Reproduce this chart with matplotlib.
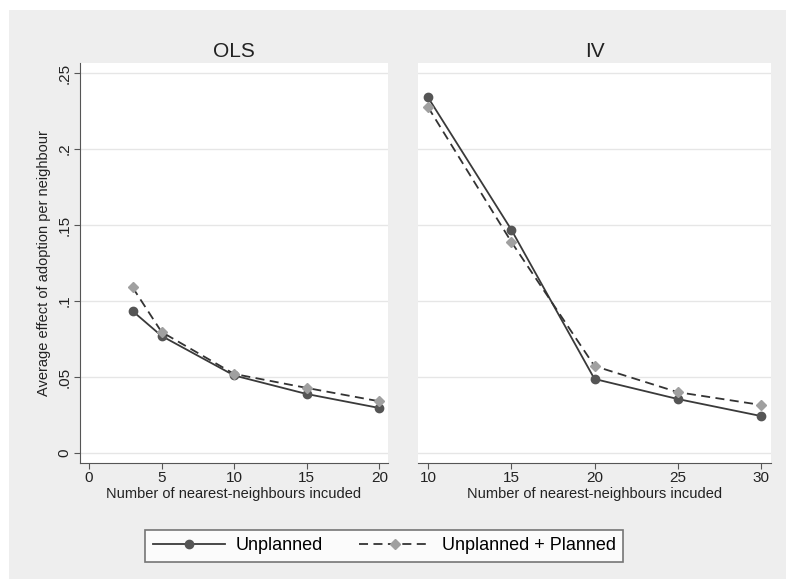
import numpy as np
import matplotlib.pyplot as plt
from matplotlib.patches import Rectangle

plt.rcParams['font.family'] = ['Liberation Sans', 'DejaVu Sans']

# OLS panel
ols_x = [3, 5, 10, 15, 20]
ols_unplanned = [0.0934, 0.077, 0.051, 0.0388, 0.0296]
ols_planned = [0.109, 0.0796, 0.052, 0.0428, 0.034]

# IV panel
iv_x = [10, 15, 20, 25, 30]
iv_unplanned = [0.234, 0.147, 0.0487, 0.0355, 0.0243]
iv_planned = [0.2276, 0.139, 0.0572, 0.040, 0.0316]

yticks = [0, 0.05, 0.1, 0.15, 0.2, 0.25]
ytick_labels = ["0", ".05", ".1", ".15", ".2", ".25"]
ols_xticks = [0, 5, 10, 15, 20]
iv_xticks = [10, 15, 20, 25, 30]

xlabel = "Number of nearest-neighbours incuded"
ylabel = "Average effect of adoption per neighbour"

fig = plt.figure(figsize=(7.86, 5.79), dpi=100)
fig.patch.set_facecolor("white")
# grey graph region (inset a little from the top-left corner)
fig.patches.append(Rectangle((9 / 786, 0), 1, 1 - 10 / 579, transform=fig.transFigure,
                             facecolor="#eeeeee", edgecolor="none", zorder=-10))

ax1 = fig.add_axes([80 / 786, 1 - 463 / 579, 308 / 786, 400 / 579])
ax2 = fig.add_axes([418 / 786, 1 - 463 / 579, 353 / 786, 400 / 579])

unpl_style = dict(color="#3a3a3a", linewidth=1.3, marker="o", markersize=6,
                  markerfacecolor="#555555", markeredgecolor="#555555")
plan_style = dict(color="#333333", linewidth=1.3, linestyle=(0, (5, 3)), marker="D",
                  markersize=5.5, markerfacecolor="#a0a0a0", markeredgecolor="#a0a0a0")

for ax, x, yu, yp, xt, xl, title in [
        (ax1, ols_x, ols_unplanned, ols_planned, ols_xticks, (-0.62, 20.6), "OLS"),
        (ax2, iv_x, iv_unplanned, iv_planned, iv_xticks, (9.4, 30.6), "IV")]:
    ax.set_facecolor("white")
    ax.plot(x, yu, label="Unplanned", zorder=3, **unpl_style)
    ax.plot(x, yp, label="Unplanned + Planned", zorder=3, **plan_style)
    ax.set_xlim(*xl)
    ax.set_ylim(-0.0066, 0.2566)
    ax.set_yticks(yticks)
    ax.grid(axis="y", color="#e6e6e6", linewidth=1)
    ax.set_axisbelow(True)
    ax.set_xticks(xt)
    ax.set_xlabel(xlabel, fontsize=10.5, color="#222222", labelpad=1)
    ax.set_title(title, fontsize=15, color="#222222", pad=4)
    ax.tick_params(axis="x", labelsize=11, colors="#555555", labelcolor="#222222",
                   length=4, pad=2)
    for s in ["top", "right"]:
        ax.spines[s].set_visible(False)
    ax.spines["bottom"].set_color("#555555")

ax1.set_yticklabels(ytick_labels, rotation=90, va="center")
ax1.tick_params(axis="y", labelsize=11, colors="#555555", labelcolor="#222222",
                length=4, pad=2)
ax1.spines["left"].set_color("#555555")
ax1.set_ylabel(ylabel, fontsize=10.5, color="#222222", labelpad=5)

ax2.spines["left"].set_visible(False)
ax2.tick_params(axis="y", left=False, labelleft=False)

handles, labels = ax1.get_legend_handles_labels()
leg = fig.legend(handles, labels, loc="center", bbox_to_anchor=(0.489, 0.057), ncol=2,
                 fontsize=13, frameon=True, fancybox=False, edgecolor="#555555",
                 handlelength=4.0, handletextpad=0.6, columnspacing=2.0, borderpad=0.4)
leg.get_frame().set_linewidth(1.2)

fig.savefig("out.png", dpi=100, facecolor=fig.get_facecolor())
